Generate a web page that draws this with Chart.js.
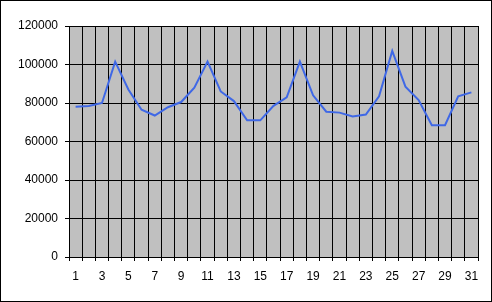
<!DOCTYPE html>
<html>
<head>
<meta charset="utf-8">
<script src="https://cdn.jsdelivr.net/npm/chart.js@4/dist/chart.umd.min.js"></script>
<style>
html,body{margin:0;padding:0;background:#fff;}
#wrap{width:492px;height:302px;position:relative;}
</style>
</head>
<body>
<div id="wrap"><canvas id="c" width="492" height="302"></canvas></div>
<script>
const categories = ["1","2","3","4","5","6","7","8","9","10","11","12","13","14","15","16","17","18","19","20","21","22","23","24","25","26","27","28","29","30","31"];
const values = [78000,78500,80000,101500,87000,76500,73500,77800,80500,88000,101500,86000,81000,71000,71000,78500,83000,101500,84000,75500,75000,73000,74000,83500,107000,88500,81500,68500,68500,83500,85500];
const yMin = 0, yMax = 120000, yStep = 20000;

const bgPlugin = {
  id: 'bg',
  beforeDraw(chart) {
    const {ctx, chartArea: a} = chart;
    ctx.save();
    ctx.fillStyle = '#ffffff';
    ctx.fillRect(0, 0, chart.width, chart.height);
    ctx.fillStyle = '#c0c0c0';
    ctx.fillRect(a.left, a.top, a.right - a.left, a.bottom - a.top);
    ctx.restore();
  },
  afterDraw(chart) {
    const ctx = chart.ctx;
    ctx.save();
    ctx.strokeStyle = '#000';
    ctx.lineWidth = 1;
    ctx.strokeRect(0.5, 0.5, chart.width - 1, chart.height - 1);
    ctx.restore();
  }
};

const font = {family: "'Liberation Sans', Arial, sans-serif", size: 12};

new Chart(document.getElementById('c'), {
  type: 'line',
  data: {
    labels: categories,
    datasets: [{
      data: values,
      borderColor: '#3f68e6',
      borderWidth: 2,
      pointRadius: 0,
      tension: 0,
      fill: false
    }]
  },
  options: {
    responsive: false,
    animation: false,
    devicePixelRatio: 1,
    layout: {padding: {left: 0, top: 26, right: 14, bottom: 0}},
    plugins: {legend: {display: false}, tooltip: {enabled: false}},
    scales: {
      x: {
        type: 'category',
        offset: true,
        grid: {offset: true, color: '#000', lineWidth: 1, tickLength: 4, tickColor: '#000', drawTicks: true},
        border: {color: '#000', width: 1},
        ticks: {
          autoSkip: false, maxRotation: 0, color: '#000', font: font, padding: 8,
          callback: function(v, i) { return i % 2 === 0 ? categories[i] : ''; }
        },
        afterFit(s) { s.height = 45; }
      },
      y: {
        min: yMin, max: yMax,
        grid: {color: '#000', lineWidth: 1, tickLength: 4, tickColor: '#000'},
        border: {color: '#000', width: 1},
        ticks: {stepSize: yStep, color: '#000', font: font, padding: 7,
          callback: function(v) { return String(v); }},
        afterFit(s) { s.width = 69; }
      }
    }
  },
  plugins: [bgPlugin]
});
</script>
</body>
</html>
